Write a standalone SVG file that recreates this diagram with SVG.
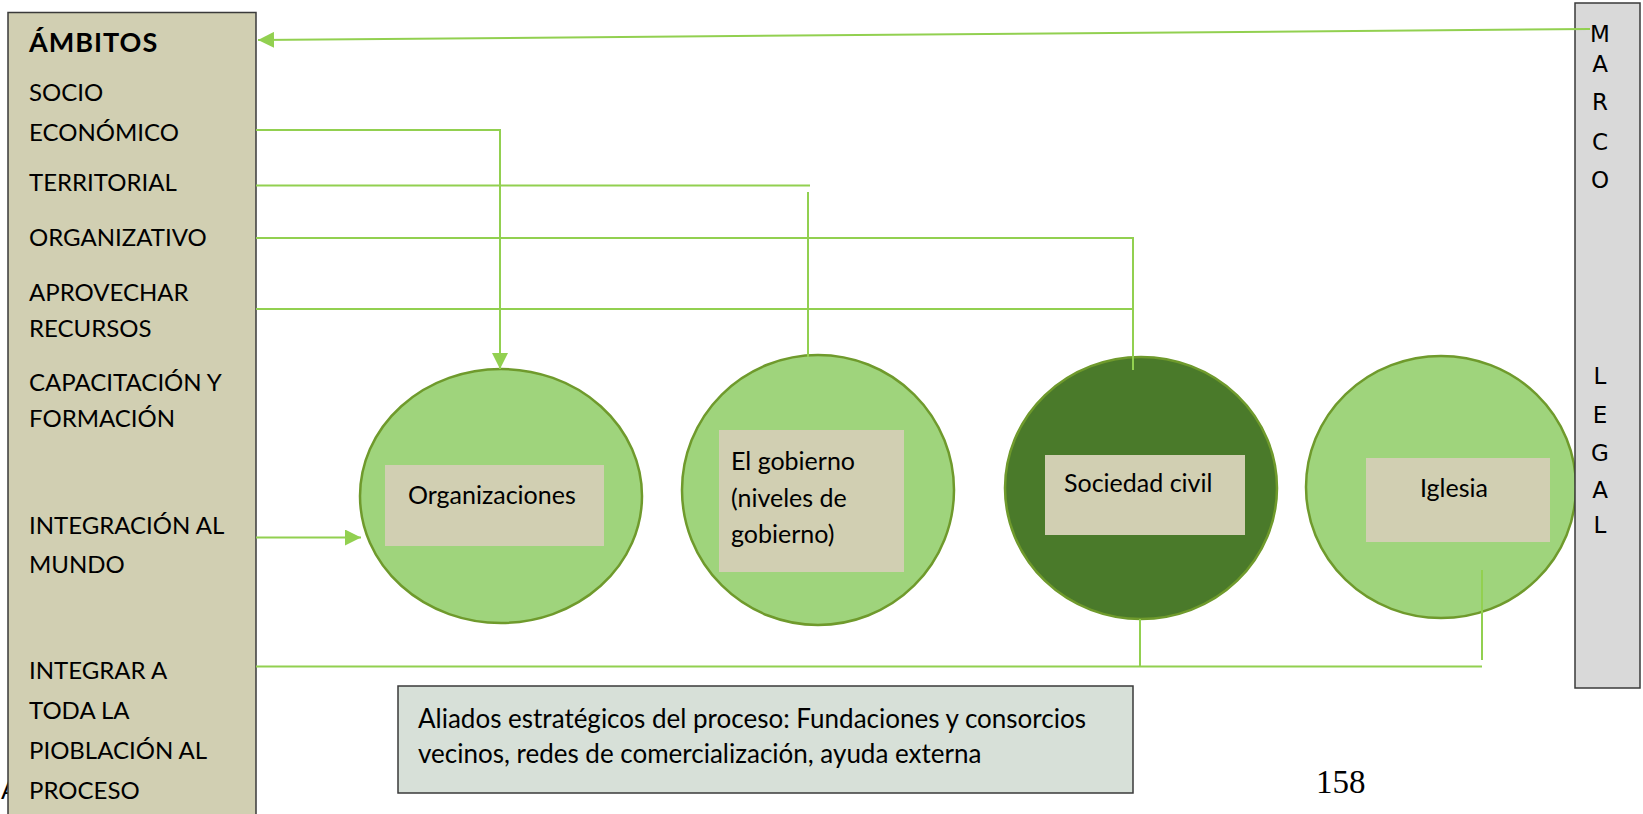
<svg xmlns="http://www.w3.org/2000/svg" width="1643" height="814" viewBox="0 0 1643 814">
<style>
.t{font-family:Lato,"Liberation Sans",sans-serif;font-size:25px;fill:#000}
.l{font-family:Lato,"Liberation Sans",sans-serif;font-size:24px;fill:#000}
.b{font-weight:bold;font-size:27px;letter-spacing:1px}
.s{font-family:Lato,"Liberation Sans",sans-serif;font-size:26px;fill:#000}
.m{font-family:"DejaVu Sans",sans-serif;font-size:23px;fill:#000;text-anchor:middle}
.lt{fill:#9fd47c;stroke:#6f9a2c;stroke-width:2.5}
.dk{fill:#4a7a2a;stroke:#6f9a2c;stroke-width:2.5}
.in{fill:#d1cfb2}
.c{fill:none;stroke:#92d050;stroke-width:2}
</style>
<defs>
<marker id="ah" markerUnits="userSpaceOnUse" markerWidth="18" markerHeight="16" refX="16" refY="8" orient="auto">
<path d="M0,0 L16,8 L0,16 Z" fill="#92d050"/>
</marker>
</defs>
<rect width="1643" height="814" fill="#fff"/>
<text class="t" x="1" y="799">A</text>
<g id="ambitos">
<rect x="8" y="12.5" width="248" height="812" fill="#d1cfb2" stroke="#3a3a3a" stroke-width="1.5"/>
<text class="l b" x="29" y="52">ÁMBITOS</text>
<text class="l" x="29" y="101">SOCIO</text>
<text class="l" x="29" y="141">ECONÓMICO</text>
<text class="l" x="29" y="191">TERRITORIAL</text>
<text class="l" x="29" y="246">ORGANIZATIVO</text>
<text class="l" x="29" y="301">APROVECHAR</text>
<text class="l" x="29" y="337">RECURSOS</text>
<text class="l" x="29" y="391">CAPACITACIÓN Y</text>
<text class="l" x="29" y="427">FORMACIÓN</text>
<text class="l" x="29" y="534">INTEGRACIÓN AL</text>
<text class="l" x="29" y="573">MUNDO</text>
<text class="l" x="29" y="679">INTEGRAR A</text>
<text class="l" x="29" y="719">TODA LA</text>
<text class="l" x="29" y="759">PIOBLACIÓN AL</text>
<text class="l" x="29" y="799">PROCESO</text>
</g>
<g id="organizaciones">
<ellipse class="lt" cx="501" cy="496" rx="141" ry="127"/>
<rect class="in" x="385" y="465" width="219" height="81"/>
<text class="t" x="408" y="504">Organizaciones</text>
</g>
<g id="gobierno">
<ellipse class="lt" cx="818" cy="490" rx="136" ry="135"/>
<rect class="in" x="719" y="430" width="185" height="142"/>
<text class="t" x="731" y="470">El gobierno</text>
<text class="t" x="731" y="507">(niveles de</text>
<text class="t" x="731" y="543">gobierno)</text>
</g>
<g id="sociedad">
<ellipse class="dk" cx="1141" cy="488" rx="136" ry="131"/>
<rect class="in" x="1045" y="455" width="200" height="80"/>
<text class="t" x="1064" y="492">Sociedad civil</text>
</g>
<g id="iglesia">
<ellipse class="lt" cx="1441" cy="487" rx="135" ry="131"/>
<rect class="in" x="1366" y="458" width="184" height="84"/>
<text class="t" x="1420" y="497">Iglesia</text>
</g>
<g id="marco">
<rect x="1575" y="3" width="65" height="685" fill="#d9d9d9" stroke="#3a3a3a" stroke-width="1.5"/>
<text class="m" x="1600" y="42">M</text>
<text class="m" x="1600" y="72">A</text>
<text class="m" x="1600" y="110">R</text>
<text class="m" x="1600" y="150">C</text>
<text class="m" x="1600" y="188">O</text>
<text class="m" x="1600" y="384">L</text>
<text class="m" x="1600" y="423">E</text>
<text class="m" x="1600" y="461">G</text>
<text class="m" x="1600" y="498">A</text>
<text class="m" x="1600" y="533">L</text>
</g>
<g id="aliados">
<rect x="398" y="686" width="735" height="107" fill="#d7e0d8" stroke="#3a3a3a" stroke-width="1.5"/>
<text class="s" x="418" y="728">Aliados estratégicos del proceso: Fundaciones y consorcios</text>
<text class="s" x="418" y="763">vecinos, redes de comercialización, ayuda externa</text>
</g>
<text x="1316" y="793" font-family="'Liberation Serif',serif" font-size="33" fill="#000">158</text>
<g id="connectors">
<path class="c" d="M1590,29 L258,40" marker-end="url(#ah)"/>
<path class="c" d="M256,130 H500 V369" marker-end="url(#ah)"/>
<path class="c" d="M256,185.5 H810"/>
<path class="c" d="M808,192 V357"/>
<path class="c" d="M256,238 H1133 V370"/>
<path class="c" d="M256,309 H1133"/>
<path class="c" d="M256,537.5 H361" marker-end="url(#ah)"/>
<path class="c" d="M256,666.5 H1482"/>
<path class="c" d="M1140,619 V666"/>
<path class="c" d="M1482,570 V660"/>
</g>
</svg>
